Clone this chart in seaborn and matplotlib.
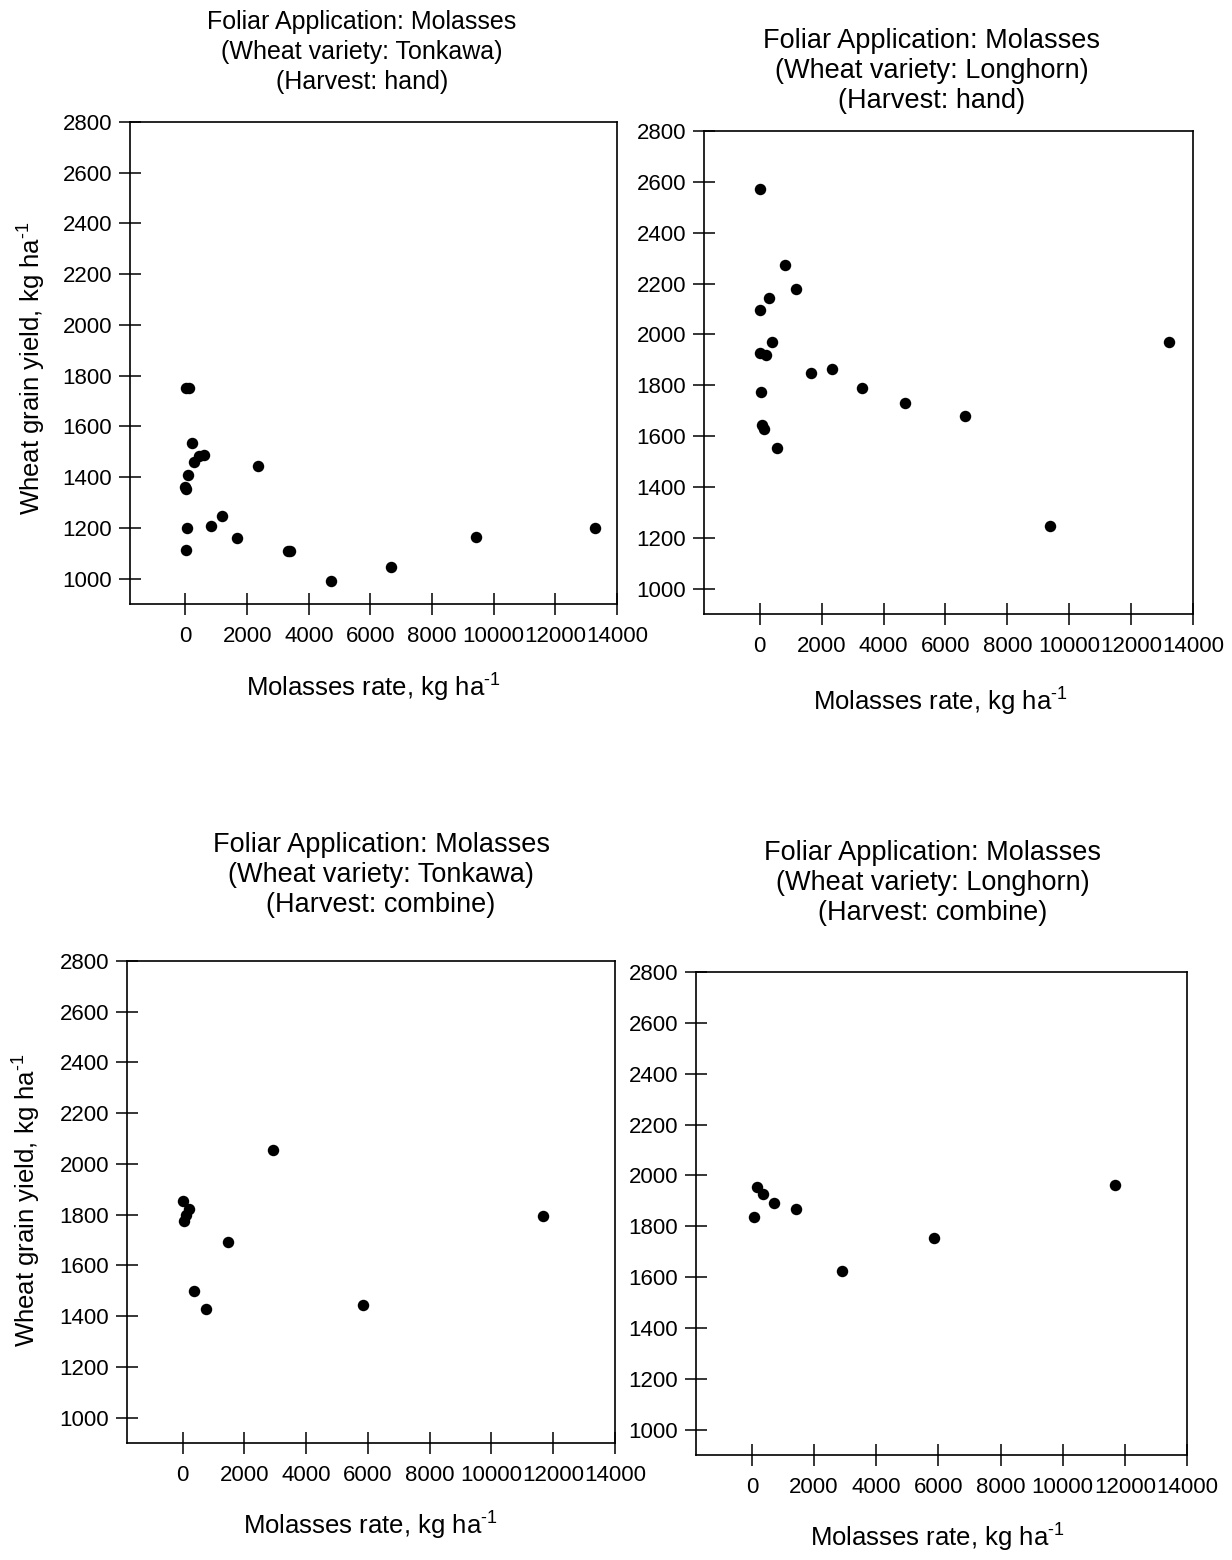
import matplotlib
matplotlib.use("Agg")
import matplotlib.pyplot as plt
import seaborn as sns
import pandas as pd

# ---- data ----
tonkawa_hand_rate = [30, 100, 205, 292, 432, 594, 97, 0, 30, 2357, 65, 832, 1189, 1666, 20, 3330, 3380, 4727, 6675, 9425, 13290]
tonkawa_hand_yield = [1750, 1750, 1534, 1460, 1483, 1489, 1408, 1360, 1355, 1444, 1200, 1208, 1245, 1162, 1111, 1110, 1108, 992, 1045, 1166, 1200]

longhorn_hand_rate = [23, 828, 1172, 290, 0, 409, 23, 206, 1643, 2341, 3317, 4702, 6647, 55, 77, 151, 570, 9394, 13237]
longhorn_hand_yield = [2571, 2274, 2180, 2144, 2095, 1970, 1927, 1919, 1847, 1864, 1788, 1730, 1679, 1773, 1645, 1628, 1553, 1246, 1970]

tonkawa_comb_rate = [2937, 19, 204, 97, 52, 1459, 376, 745, 5854, 11669]
tonkawa_comb_yield = [2054, 1853, 1824, 1797, 1774, 1694, 1501, 1429, 1443, 1794]

longhorn_comb_rate = [152, 355, 719, 1429, 55, 5848, 2903, 11668]
longhorn_comb_yield = [1953, 1927, 1890, 1866, 1837, 1754, 1624, 1963]

titles = [
    "Foliar Application: Molasses\n(Wheat variety: Tonkawa)\n(Harvest: hand)",
    "Foliar Application: Molasses\n(Wheat variety: Longhorn)\n(Harvest: hand)",
    "Foliar Application: Molasses\n(Wheat variety: Tonkawa)\n(Harvest: combine)",
    "Foliar Application: Molasses\n(Wheat variety: Longhorn)\n(Harvest: combine)",
]
x_ticks = [0, 2000, 4000, 6000, 8000, 10000, 12000, 14000]
y_ticks = [1000, 1200, 1400, 1600, 1800, 2000, 2200, 2400, 2600, 2800]
xlabel = r"Molasses rate, kg ha$^{\text{-1}}$"
ylabel = r"Wheat grain yield, kg ha$^{\text{-1}}$"

# ---- style ----
sns.set_style("ticks")
plt.rcParams["font.family"] = ["Liberation Sans", "DejaVu Sans"]
plt.rcParams["mathtext.fontset"] = "custom"
plt.rcParams["mathtext.rm"] = "Liberation Sans"
plt.rcParams["mathtext.it"] = "Liberation Sans"
plt.rcParams["text.color"] = "black"

W, H = 1232, 1560
fig = plt.figure(figsize=(W / 100, H / 100), dpi=100)
fig.patch.set_facecolor("white")

# pixel boxes: left, right, top, bottom
boxes = [(130, 617, 122, 604), (704, 1193, 131, 614), (127, 615, 961, 1443), (696, 1187, 972, 1455)]
title_pos = [(362, 52), (932, 71), (381, 875), (933, 883)]
title_size = [18, 19.5, 19.5, 19.5]
title_spacing = [1.29, 1.18, 1.18, 1.18]
xlabel_pos = [(373, 688), (940, 702), (370, 1526), (937, 1538)]
ylabel_pos = [(32, 368), None, (27, 1200), None]

datasets = [
    (tonkawa_hand_rate, tonkawa_hand_yield),
    (longhorn_hand_rate, longhorn_hand_yield),
    (tonkawa_comb_rate, tonkawa_comb_yield),
    (longhorn_comb_rate, longhorn_comb_yield),
]

for i, ((l, r, t, b), (xr, yy)) in enumerate(zip(boxes, datasets)):
    ax = fig.add_axes([l / W, 1 - b / H, (r - l) / W, (b - t) / H])
    df = pd.DataFrame({"rate": xr, "yield": yy})
    sns.scatterplot(data=df, x="rate", y="yield", ax=ax, color="black",
                    s=68, edgecolor="black", linewidth=0, zorder=3)
    ax.set_xlim(-1800, 14000)
    ax.set_ylim(900, 2800)
    ax.set_xticks(x_ticks)
    ax.set_yticks(y_ticks)
    ax.set_xticklabels([str(v) for v in x_ticks])
    ax.set_yticklabels([str(v) for v in y_ticks])
    ax.tick_params(axis="x", direction="inout", length=16, width=1.1, pad=8,
                   labelsize=16, colors="black")
    ax.tick_params(axis="y", direction="inout", length=16, width=1.1, pad=5,
                   labelsize=16, colors="black")
    for sp in ax.spines.values():
        sp.set_visible(True)
        sp.set_color("black")
        sp.set_linewidth(1.2)
    ax.set_xlabel("")
    ax.set_ylabel("")
    ax.set_facecolor("white")

    tx, ty = title_pos[i]
    fig.text(tx / W, 1 - ty / H, titles[i], ha="center", va="center",
             multialignment="center", fontsize=title_size[i],
             linespacing=title_spacing[i], color="black")
    xx, xy = xlabel_pos[i]
    fig.text(xx / W, 1 - xy / H, xlabel, ha="center", va="center", fontsize=18.5, color="black")
    if ylabel_pos[i] is not None:
        yx, yy2 = ylabel_pos[i]
        fig.text(yx / W, 1 - yy2 / H, ylabel, ha="center", va="center",
                 rotation=90, fontsize=18.5, color="black")

fig.savefig("out.png", dpi=100, facecolor="white")
